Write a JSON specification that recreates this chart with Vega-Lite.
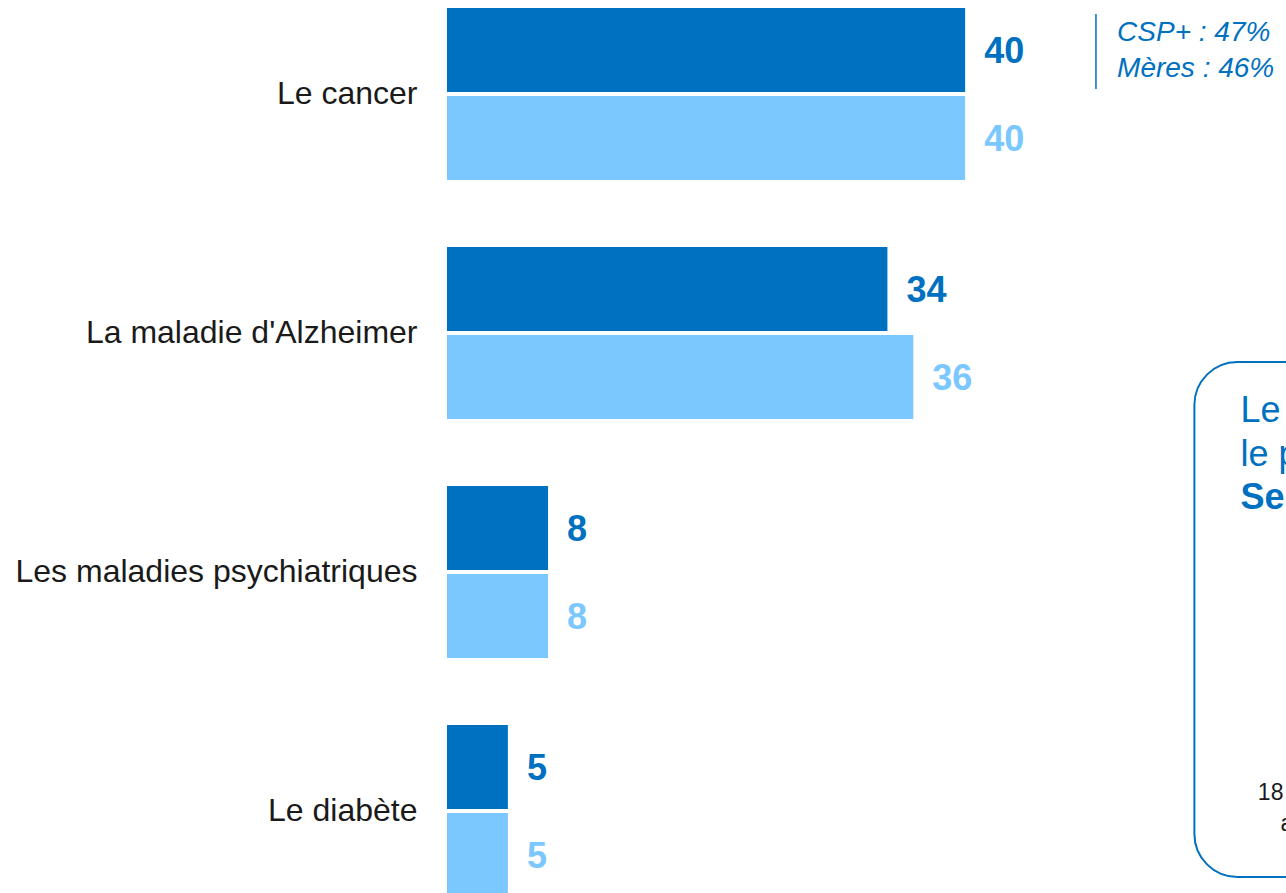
{
  "$schema": "https://vega.github.io/schema/vega-lite/v6.json",
  "autosize": {"type": "none"},
  "padding": {"left": 447, "top": 0, "right": 60, "bottom": 0},
  "width": 829,
  "height": 905,
  "background": "white",
  "config": {
    "font": "Liberation Sans",
    "view": {"stroke": null}
  },
  "layer": [
    {
      "data": {
        "values": [
          {"categorie": "Le cancer", "groupe": "A", "valeur": 40},
          {"categorie": "Le cancer", "groupe": "B", "valeur": 40},
          {"categorie": "La maladie d'Alzheimer", "groupe": "A", "valeur": 34},
          {"categorie": "La maladie d'Alzheimer", "groupe": "B", "valeur": 36},
          {"categorie": "Les maladies psychiatriques", "groupe": "A", "valeur": 7.8},
          {"categorie": "Les maladies psychiatriques", "groupe": "B", "valeur": 7.8},
          {"categorie": "Le diabète", "groupe": "A", "valeur": 4.7},
          {"categorie": "Le diabète", "groupe": "B", "valeur": 4.7}
        ]
      },
      "encoding": {
        "y": {
          "field": "categorie",
          "type": "nominal",
          "sort": null,
          "scale": {"paddingInner": 0.28, "paddingOuter": 0.0335},
          "axis": {
            "title": null,
            "ticks": false,
            "domain": false,
            "labelFontSize": 32,
            "labelColor": "#1a1a1a",
            "labelPadding": 30,
            "labelLimit": 600
          }
        },
        "yOffset": {
          "field": "groupe",
          "type": "nominal",
          "scale": {"paddingInner": 0.0455, "paddingOuter": 0}
        },
        "x": {
          "field": "valeur",
          "type": "quantitative",
          "scale": {"domain": [0, 64], "nice": false},
          "axis": null
        },
        "color": {
          "field": "groupe",
          "type": "nominal",
          "scale": {"domain": ["A", "B"], "range": ["#0070C0", "#7BC7FF"]},
          "legend": null
        }
      },
      "layer": [
        {"mark": {"type": "bar"}},
        {
          "mark": {
            "type": "text",
            "align": "left",
            "baseline": "middle",
            "dx": 19,
            "dy": 2,
            "fontSize": 36,
            "fontWeight": "bold"
          },
          "encoding": {
            "text": {"field": "valeur", "type": "quantitative", "format": ".0f"}
          }
        }
      ]
    },
    {
      "data": {"values": [{"texte": "CSP+ : 47%\nMères : 46%"}]},
      "layer": [
        {
          "mark": {"type": "rule", "stroke": "#0070C0", "strokeWidth": 1.5},
          "encoding": {
            "x": {"datum": 50.1, "type": "quantitative", "scale": {"domain": [0, 64], "nice": false}},
            "y": {"datum": 14, "type": "quantitative", "scale": {"domain": [0, 905], "reverse": true, "nice": false}, "axis": null},
            "y2": {"datum": 89}
          }
        },
        {
          "mark": {
            "type": "text",
            "align": "left",
            "baseline": "middle",
            "fontSize": 28,
            "fontStyle": "italic",
            "lineBreak": "\n",
            "lineHeight": 36,
            "color": "#0070C0"
          },
          "encoding": {
            "text": {"field": "texte", "type": "nominal"},
            "x": {"datum": 51.73, "type": "quantitative", "scale": {"domain": [0, 64], "nice": false}},
            "y": {"datum": 33, "type": "quantitative", "scale": {"domain": [0, 905], "reverse": true, "nice": false}, "axis": null}
          }
        },
        {
          "mark": {
            "type": "rect",
            "fillOpacity": 0,
            "stroke": "#0070C0",
            "strokeWidth": 2,
            "cornerRadius": 43
          },
          "encoding": {
            "x": {"datum": 57.7, "type": "quantitative", "scale": {"domain": [0, 64], "nice": false}},
            "x2": {"datum": 75},
            "y": {"datum": 362, "type": "quantitative", "scale": {"domain": [0, 905], "reverse": true, "nice": false}, "axis": null},
            "y2": {"datum": 877}
          }
        },
        {
          "data": {"values": [{"texte": "Le"}]},
          "mark": {"type": "text", "align": "left", "baseline": "alphabetic", "fontSize": 36, "color": "#0070C0"},
          "encoding": {
            "text": {"field": "texte", "type": "nominal"},
            "x": {"datum": 61.25, "type": "quantitative", "scale": {"domain": [0, 64], "nice": false}},
            "y": {"datum": 422, "type": "quantitative", "scale": {"domain": [0, 905], "reverse": true, "nice": false}, "axis": null}
          }
        },
        {
          "data": {"values": [{"texte": "le p"}]},
          "mark": {"type": "text", "align": "left", "baseline": "alphabetic", "fontSize": 36, "color": "#0070C0"},
          "encoding": {
            "text": {"field": "texte", "type": "nominal"},
            "x": {"datum": 61.25, "type": "quantitative", "scale": {"domain": [0, 64], "nice": false}},
            "y": {"datum": 466, "type": "quantitative", "scale": {"domain": [0, 905], "reverse": true, "nice": false}, "axis": null}
          }
        },
        {
          "data": {"values": [{"texte": "Se"}]},
          "mark": {"type": "text", "align": "left", "baseline": "alphabetic", "fontSize": 36, "fontWeight": "bold", "color": "#0070C0"},
          "encoding": {
            "text": {"field": "texte", "type": "nominal"},
            "x": {"datum": 61.25, "type": "quantitative", "scale": {"domain": [0, 64], "nice": false}},
            "y": {"datum": 509, "type": "quantitative", "scale": {"domain": [0, 905], "reverse": true, "nice": false}, "axis": null}
          }
        },
        {
          "data": {"values": [{"texte": "18"}]},
          "mark": {"type": "text", "align": "left", "baseline": "alphabetic", "fontSize": 23, "color": "#1a1a1a"},
          "encoding": {
            "text": {"field": "texte", "type": "nominal"},
            "x": {"datum": 62.6, "type": "quantitative", "scale": {"domain": [0, 64], "nice": false}},
            "y": {"datum": 800, "type": "quantitative", "scale": {"domain": [0, 905], "reverse": true, "nice": false}, "axis": null}
          }
        },
        {
          "data": {"values": [{"texte": "a"}]},
          "mark": {"type": "text", "align": "left", "baseline": "alphabetic", "fontSize": 23, "color": "#1a1a1a"},
          "encoding": {
            "text": {"field": "texte", "type": "nominal"},
            "x": {"datum": 64.35, "type": "quantitative", "scale": {"domain": [0, 64], "nice": false}},
            "y": {"datum": 831, "type": "quantitative", "scale": {"domain": [0, 905], "reverse": true, "nice": false}, "axis": null}
          }
        }
      ]
    }
  ],
  "resolve": {"scale": {"y": "independent"}}
}
